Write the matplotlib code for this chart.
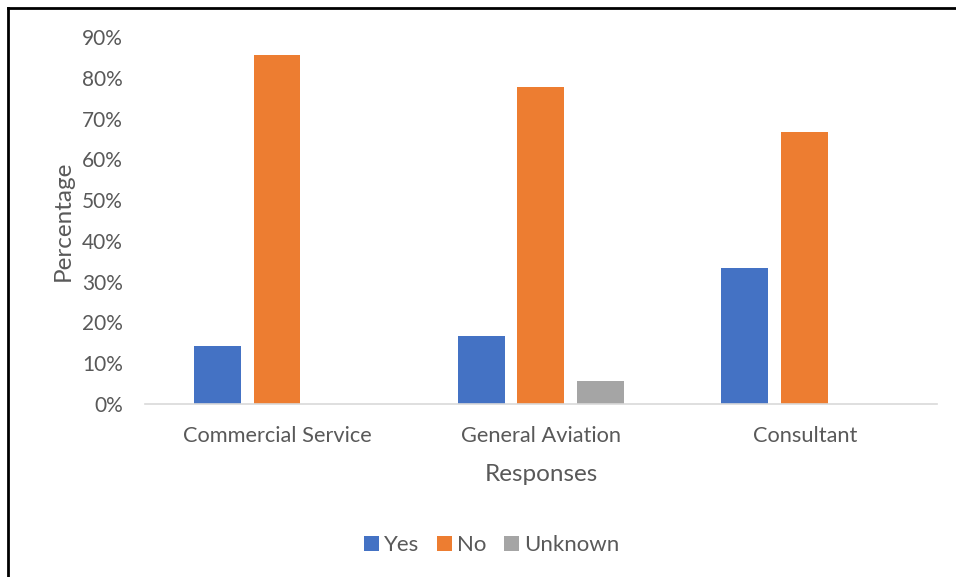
import matplotlib.pyplot as plt
import numpy as np
from matplotlib.lines import Line2D
from matplotlib.ticker import PercentFormatter

categories = ["Commercial Service", "General Aviation", "Consultant"]
yes = [14.3, 16.7, 33.3]
no = [85.7, 77.8, 66.7]
unknown = [0.0, 5.6, 0.0]

series = [("Yes", yes, "#4472C4"), ("No", no, "#ED7D31"), ("Unknown", unknown, "#A5A5A5")]

plt.rcParams['font.family'] = ['Lato', 'DejaVu Sans']
text_color = '#595959'

fig = plt.figure(figsize=(9.56, 5.77), dpi=100)
ax = fig.add_axes([0.1517, 0.2998, 0.8283, 0.6361])

x = np.arange(len(categories))
width = 0.178
offsets = [-0.227, 0.0, 0.227]
for (name, vals, color), off in zip(series, offsets):
    ax.bar(x + off, vals, width, color=color, label=name, zorder=2)

ax.set_xlim(-0.5, 2.5)
ax.set_ylim(0, 90)
ax.set_yticks(np.arange(0, 91, 10))
ax.yaxis.set_major_formatter(PercentFormatter(decimals=0))
ax.set_xticks(x)
ax.set_xticklabels(categories)

for s in ['top', 'right', 'left']:
    ax.spines[s].set_visible(False)
ax.spines['bottom'].set_color('#D9D9D9')
ax.spines['bottom'].set_linewidth(1.2)
ax.tick_params(axis='y', length=0, labelsize=15, colors=text_color, pad=16)
ax.tick_params(axis='x', length=0, labelsize=15.7, colors=text_color, pad=16)

ax.set_ylabel("Percentage", fontsize=17.5, color=text_color, labelpad=6)
ax.set_xlabel("Responses", fontsize=17.5, color=text_color, labelpad=13)

handles, labels = ax.get_legend_handles_labels()
fig.legend(handles, labels, loc='center', bbox_to_anchor=(492 / 956, 1 - 545 / 577),
           ncol=3, frameon=False, fontsize=16, labelcolor=text_color,
           handlelength=0.65, handleheight=0.65, handletextpad=0.25, columnspacing=0.8)

# outer frame (left and top edge)
fig.add_artist(Line2D([7.5 / 956, 7.5 / 956], [0, 1 - 8 / 577], transform=fig.transFigure,
                      color='black', linewidth=2))
fig.add_artist(Line2D([7.5 / 956, 1], [1 - 8 / 577, 1 - 8 / 577], transform=fig.transFigure,
                      color='black', linewidth=2))

fig.savefig("out.png", dpi=100)
